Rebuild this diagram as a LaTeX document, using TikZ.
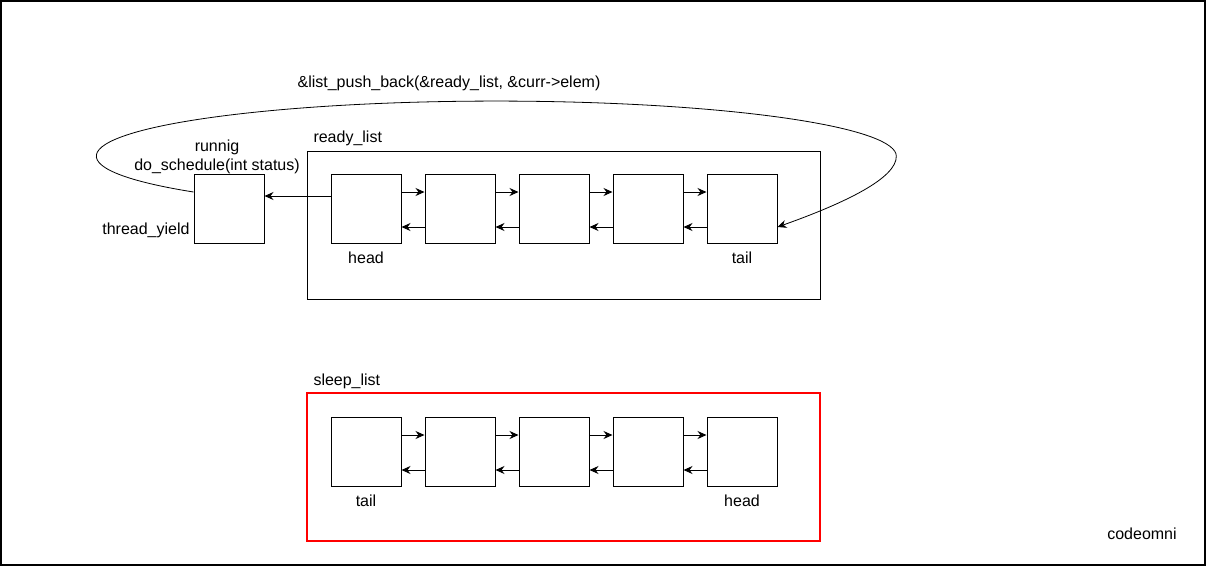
\documentclass[tikz,border=0pt]{standalone}
\usepackage{fontspec}
\setmainfont{Liberation Sans}
\usetikzlibrary{arrows.meta}
\begin{document}
\begin{tikzpicture}[x=1pt,y=-1pt,line width=1pt,font=\fontsize{16}{19}\selectfont,
    cell/.style={draw,minimum width=70pt,minimum height=69pt,inner sep=0pt},
    link/.style={-{Stealth[length=9pt,width=8pt]}}]
  \useasboundingbox (0,0) rectangle (1206,566);
  \draw[line width=2pt] (1,1) rectangle (1205,565);
  % ready list
  \draw (307,151) rectangle (820,299);
  \node[anchor=west,inner sep=0pt] (rlab) at (313,138) {ready\_list};
  % sleep list
  \draw[red,line width=1.2pt] (307,393) rectangle (820,541);
  \node[anchor=west,inner sep=0pt] (slab) at (313,381) {sleep\_list};
  \foreach \i/\x in {1/366,2/460,3/554,4/648,5/742} {
    \node[cell] (r\i) at (\x,209) {};
    \node[cell] (s\i) at (\x,452) {};
  }
  \foreach \i/\j in {1/2,2/3,3/4,4/5} {
    \draw[link] ([yshift=17pt]r\i.east) -- ([yshift=17pt]r\j.west);
    \draw[link] ([yshift=-18pt]r\j.west) -- ([yshift=-18pt]r\i.east);
    \draw[link] ([yshift=17pt]s\i.east) -- ([yshift=17pt]s\j.west);
    \draw[link] ([yshift=-18pt]s\j.west) -- ([yshift=-18pt]s\i.east);
  }
  \node (rhead) at (366,258) {head};
  \node (rtail) at (742,258) {tail};
  \node (stail) at (366,501) {tail};
  \node (shead) at (742,501) {head};
  % running thread
  \node[cell] (run) at (229,209) {};
  \node (runlab) at (217,147) {runnig};
  \node (sched) at (217,166) {do\_schedule(int status)};
  \node[anchor=east,inner sep=0pt] (yield) at (190,230) {thread\_yield};
  \draw[link] ([yshift=13pt]r1.west) -- ([yshift=13pt]run.east);
  % push back loop
  \draw[link,line width=0.8pt] ([yshift=17pt]run.west)
    arc[start angle=139.2,end angle=360,x radius=400,y radius=55]
    .. controls (897,178) and (845,203) .. ([yshift=-18pt]r5.east);
  \node (push) at (449,83) {\&list\_push\_back(\&ready\_list, \&curr->elem)};
  \node (brand) at (1142,534) {codeomni};
\end{tikzpicture}
\end{document}
